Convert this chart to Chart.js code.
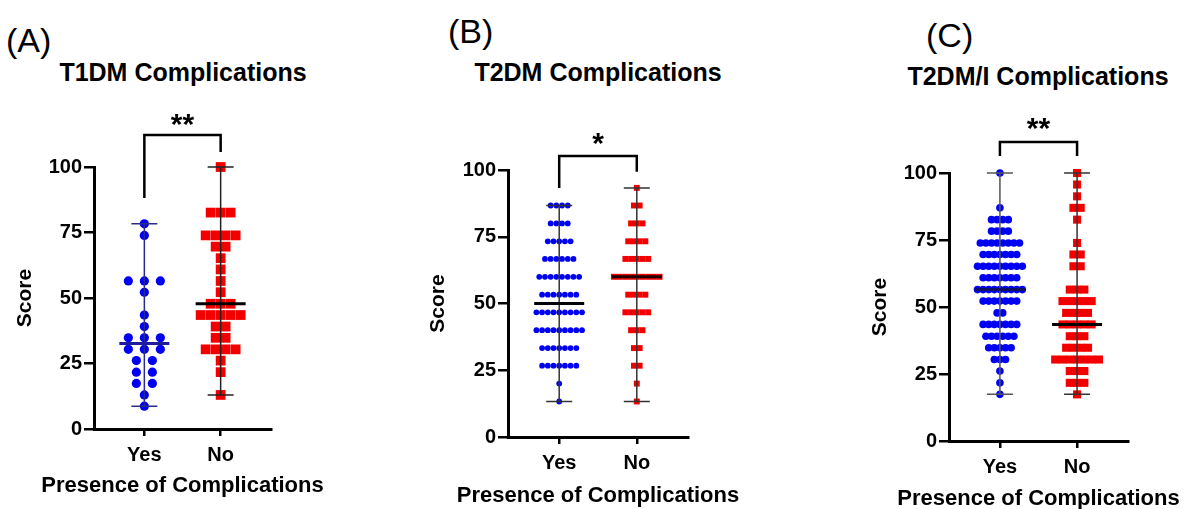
<!DOCTYPE html>
<html>
<head>
<meta charset="utf-8">
<script src="https://cdn.jsdelivr.net/npm/chart.js@4.4.1/dist/chart.umd.min.js"></script>
<style>
  html, body { margin: 0; padding: 0; background: #fff; overflow: hidden; }
  body { width: 1187px; height: 509px; position: relative; font-family: 'Liberation Sans', Arial, sans-serif; color: #000; }
  canvas { position: absolute; top: 0; }
  .tag { position: absolute; font-size: 34px; line-height: 1; transform: translateY(-50%); }
  .ttl { position: absolute; font-size: 25px; font-weight: bold; line-height: 1; white-space: nowrap; transform: translate(-50%, -50%); }
</style>
</head>
<body>
<div class="tag" style="left:6px;top:40px">(A)</div>
<div class="tag" style="left:448px;top:31px">(B)</div>
<div class="tag" style="left:926px;top:35px">(C)</div>
<div class="ttl" style="left:183px;top:72px">T1DM Complications</div>
<div class="ttl" style="left:598px;top:72px">T2DM Complications</div>
<div class="ttl" style="left:1038px;top:76px">T2DM/I Complications</div>
<canvas id="cA" width="340" height="509" style="left:0px"></canvas>
<canvas id="cB" width="340" height="509" style="left:420px"></canvas>
<canvas id="cC" width="340" height="509" style="left:850px"></canvas>
<script>
const groups = ['Yes', 'No'];
const yTicks = [0, 25, 50, 75, 100];
const xTitle = 'Presence of Complications';
const yTitle = 'Score';

// scores per participant
const t1dmYes = [78.3, 73.9, 56.5, 56.5, 56.5, 52.2, 43.5, 39.1, 34.8, 34.8, 34.8, 30.4, 30.4, 30.4,
  26.1, 26.1, 21.7, 21.7, 17.4, 17.4, 13.0, 8.7];
const t1dmNo = [100, 82.6, 82.6, 82.6, 73.9, 73.9, 73.9, 73.9, 69.6, 69.6, 65.2, 60.9, 56.5, 52.2,
  47.8, 47.8, 47.8, 43.5, 43.5, 43.5, 43.5, 43.5, 39.1, 39.1, 34.8, 34.8,
  30.4, 30.4, 30.4, 30.4, 26.1, 21.7, 13.0];

const t2dmYes = [86.7, 86.7, 86.7, 86.7, 80, 80, 80, 80, 73.3, 73.3, 73.3, 73.3, 73.3,
  66.7, 66.7, 66.7, 66.7, 66.7, 66.7, 60, 60, 60, 60, 60, 60, 60, 60,
  53.3, 53.3, 53.3, 53.3, 53.3, 53.3, 53.3,
  46.7, 46.7, 46.7, 46.7, 46.7, 46.7, 46.7, 46.7, 46.7,
  40, 40, 40, 40, 40, 40, 40, 40, 40,
  33.3, 33.3, 33.3, 33.3, 33.3, 33.3, 33.3,
  26.7, 26.7, 26.7, 26.7, 26.7, 26.7, 26.7, 20, 13.3];
const t2dmNo = [93.3, 86.7, 86.7, 80, 80, 80, 73.3, 73.3, 73.3, 73.3,
  66.7, 66.7, 66.7, 66.7, 66.7, 60, 60, 60, 60, 60, 60, 60, 60, 60,
  53.3, 53.3, 53.3, 53.3, 46.7, 46.7, 46.7, 46.7, 46.7, 40, 40, 40,
  33.3, 33.3, 26.7, 26.7, 20, 13.3];

const t2dmiYes = [100, 87.0, 82.6, 82.6, 82.6, 82.6, 78.3, 78.3, 78.3, 78.3,
  73.9, 73.9, 73.9, 73.9, 73.9, 73.9, 73.9, 73.9,
  69.6, 69.6, 69.6, 69.6, 69.6, 69.6, 69.6,
  65.2, 65.2, 65.2, 65.2, 65.2, 65.2, 65.2, 65.2, 65.2,
  60.9, 60.9, 60.9, 60.9, 60.9, 60.9, 60.9,
  56.5, 56.5, 56.5, 56.5, 56.5, 56.5, 56.5, 56.5, 56.5,
  52.2, 52.2, 52.2, 52.2, 52.2, 52.2, 52.2, 47.8, 47.8,
  43.5, 43.5, 43.5, 43.5, 43.5, 43.5, 43.5,
  39.1, 39.1, 39.1, 39.1, 39.1, 39.1, 34.8, 34.8, 34.8, 34.8, 34.8,
  30.4, 30.4, 30.4, 26.1, 21.7, 17.4];
const t2dmiNo = [100, 95.7, 91.3, 87.0, 87.0, 82.6, 73.9, 69.6, 69.6, 65.2, 65.2,
  56.5, 56.5, 56.5, 52.2, 52.2, 52.2, 52.2, 52.2, 47.8, 47.8, 47.8, 47.8,
  43.5, 43.5, 43.5, 43.5, 43.5, 39.1, 39.1, 39.1, 34.8, 34.8, 34.8, 34.8,
  30.4, 30.4, 30.4, 30.4, 30.4, 30.4, 30.4, 26.1, 26.1, 26.1, 21.7, 21.7, 21.7, 17.4];

const significance = ['**', '*', '**'];

const FONT = "'Liberation Sans', Arial, sans-serif";
const BLUE = '#0000f2';
const RED = '#f20000';
const XMIN = 0.34, XMAX = 2.66;

// layout of each panel (pixels inside its canvas) + annotation spots in score units
const panels = [
  { id: 'cA', yes: t1dmYes, no: t1dmNo, stars: significance[0],
    L: 94, R: 271, T: 167, B: 429, scoreX: 25, presY: 486,
    yesR: 4.6, yesGap: 16, noR: 6.9, noGap: 10,
    starY: 118.3, bracket: [112.2, 88.2, 105.7],
    whisker: ['#2b2b8c', '#222'], medCol: ['#1c1c9c', '#000'] },
  { id: 'cB', yes: t2dmYes, no: t2dmNo, stars: significance[1],
    L: 88, R: 268, T: 170, B: 437, scoreX: 18, presY: 496,
    yesR: 2.9, yesGap: 5.7, noR: 4.2, noGap: 5.7,
    starY: 112, bracket: [105.2, 93.3, 99.3],
    whisker: ['#333', '#333'], medCol: ['#000', '#200'] },
  { id: 'cC', yes: t2dmiYes, no: t2dmiNo, stars: significance[2],
    L: 99, R: 278, T: 173, B: 441, scoreX: 30, presY: 499,
    yesR: 3.8, yesGap: 5.6, noR: 5.7, noGap: 7.3,
    starY: 118.7, bracket: [111.6, 106.3, 106.3],
    whisker: ['#555', '#333'], medCol: ['#101060', '#000'] }
];

function median(arr) {
  const s = [...arr].sort((a, b) => a - b);
  const m = Math.floor(s.length / 2);
  return s.length % 2 ? s[m] : (s[m - 1] + s[m]) / 2;
}

// spread equal scores side by side (beeswarm rows)
function swarm(values, group, gapPx, pxPerUnit) {
  const rows = new Map();
  values.forEach(v => {
    if (!rows.has(v)) rows.set(v, 0);
    rows.set(v, rows.get(v) + 1);
  });
  const pts = [];
  rows.forEach((n, v) => {
    for (let i = 0; i < n; i++) {
      pts.push({ x: group + (i - (n - 1) / 2) * gapPx / pxPerUnit, y: v });
    }
  });
  return pts;
}

function summaryPlugin(p) {
  return {
    id: 'summary',
    afterDatasetsDraw(chart) {
      const ctx = chart.ctx, xs = chart.scales.x, ys = chart.scales.y;
      [p.yes, p.no].forEach((vals, i) => {
        const cx = xs.getPixelForValue(i + 1);
        const lo = ys.getPixelForValue(Math.min(...vals));
        const hi = ys.getPixelForValue(Math.max(...vals));
        const md = ys.getPixelForValue(median(vals));
        ctx.save();
        ctx.strokeStyle = p.whisker[i];
        ctx.lineWidth = 1.5;
        ctx.beginPath();
        ctx.moveTo(cx, lo); ctx.lineTo(cx, hi);
        ctx.moveTo(cx - 13, lo); ctx.lineTo(cx + 13, lo);
        ctx.moveTo(cx - 13, hi); ctx.lineTo(cx + 13, hi);
        ctx.stroke();
        ctx.strokeStyle = p.medCol[i];
        ctx.lineWidth = 3;
        ctx.beginPath();
        ctx.moveTo(cx - 25, md); ctx.lineTo(cx + 25, md);
        ctx.stroke();
        ctx.restore();
      });
      // significance bracket
      const x1 = xs.getPixelForValue(1), x2 = xs.getPixelForValue(2);
      const top = ys.getPixelForValue(p.bracket[0]);
      ctx.save();
      ctx.strokeStyle = '#000';
      ctx.lineWidth = 2.5;
      ctx.beginPath();
      ctx.moveTo(x1, ys.getPixelForValue(p.bracket[1]));
      ctx.lineTo(x1, top);
      ctx.lineTo(x2, top);
      ctx.lineTo(x2, ys.getPixelForValue(p.bracket[2]));
      ctx.stroke();
      ctx.fillStyle = '#000';
      ctx.font = 'bold 30px ' + FONT;
      ctx.textAlign = 'center';
      ctx.textBaseline = 'alphabetic';
      ctx.fillText(p.stars, (x1 + x2) / 2, ys.getPixelForValue(p.starY) + 15);
      // x axis title, wider than the axis itself
      ctx.font = 'bold 22px ' + FONT;
      ctx.textBaseline = 'middle';
      ctx.fillText(xTitle, (chart.chartArea.left + chart.chartArea.right) / 2, p.presY);
      ctx.restore();
    }
  };
}

panels.forEach(p => {
  const canvas = document.getElementById(p.id);
  const W = canvas.width, H = canvas.height;
  const ppu = (p.R - p.L) / (XMAX - XMIN);
  const tickFont = { family: FONT, size: 20, weight: 'bold' };

  new Chart(canvas, {
    type: 'scatter',
    data: {
      datasets: [
        { data: swarm(p.yes, 1, p.yesGap, ppu), pointStyle: 'circle', pointRadius: p.yesR,
          backgroundColor: BLUE, borderWidth: 0, clip: false },
        { data: swarm(p.no, 2, p.noGap, ppu), pointStyle: 'rect', pointRadius: p.noR,
          backgroundColor: RED, borderWidth: 0, clip: false }
      ]
    },
    options: {
      responsive: false,
      animation: false,
      events: [],
      layout: { padding: { left: 0, top: p.T, right: W - p.R, bottom: 0 } },
      plugins: { legend: { display: false }, tooltip: { enabled: false } },
      scales: {
        x: {
          type: 'linear', min: XMIN, max: XMAX,
          afterBuildTicks: s => { s.ticks = [{ value: 1 }, { value: 2 }]; },
          afterFit: s => { s.height = H - p.B; },
          ticks: { callback: v => groups[v - 1], font: tickFont, color: '#000', padding: 7, autoSkip: false, maxRotation: 0 },
          grid: { drawOnChartArea: false, tickLength: 7, color: '#000', lineWidth: 2.5 },
          border: { color: '#000', width: 3 }
        },
        y: {
          min: 0, max: 100,
          afterBuildTicks: s => { s.ticks = yTicks.map(v => ({ value: v })); },
          afterFit: s => { s.width = p.L; },
          ticks: { font: tickFont, color: '#000', padding: 2 },
          grid: { drawOnChartArea: false, tickLength: 10, color: '#000', lineWidth: 2.5 },
          border: { color: '#000', width: 3 },
          title: { display: true, text: yTitle, color: '#000',
            font: { family: FONT, size: 21, weight: 'bold', lineHeight: 1 }, padding: { top: p.scoreX - 10.5, bottom: 0 } }
        }
      }
    },
    plugins: [summaryPlugin(p)]
  });
});
</script>
</body>
</html>
